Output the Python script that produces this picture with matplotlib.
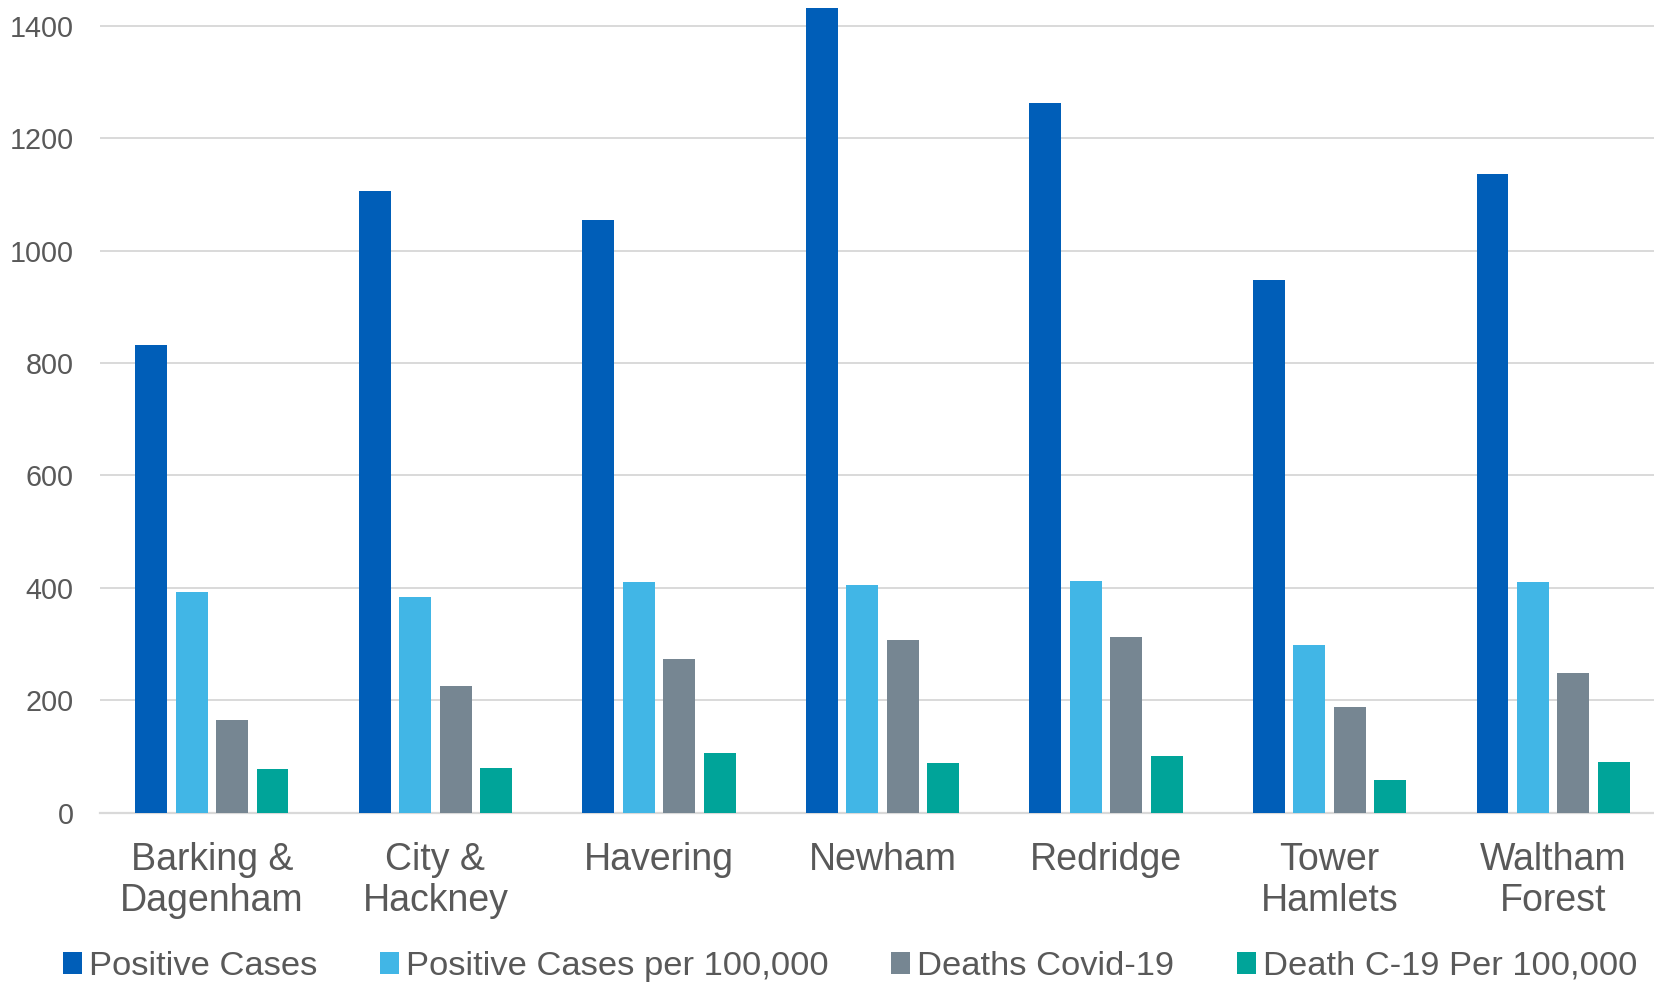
import numpy as np
import matplotlib
matplotlib.use('Agg')
import matplotlib.pyplot as plt

plt.rcParams['font.family'] = ['Liberation Sans', 'DejaVu Sans']

boroughs = ['Barking &\nDagenham', 'City &\nHackney', 'Havering', 'Newham',
            'Redridge', 'Tower\nHamlets', 'Waltham\nForest']
positive_cases = [833, 1107, 1055, 1431, 1262, 947, 1136]
positive_per_100k = [393, 384, 410, 406, 412, 298, 411]
deaths = [165, 225, 273, 307, 312, 188, 248]
deaths_per_100k = [78, 79, 106, 88, 101, 59, 90]

series = [
    ('Positive Cases', positive_cases, '#005EB8'),
    ('Positive Cases per 100,000', positive_per_100k, '#41B6E6'),
    ('Deaths Covid-19', deaths, '#768692'),
    ('Death C-19 Per 100,000', deaths_per_100k, '#00A499'),
]

fig = plt.figure(figsize=(16.54, 9.82), dpi=100)
ax = fig.add_axes([100 / 1654, 169.3 / 982, 1565 / 1654, 812.7 / 982])

x = np.arange(len(boroughs))
step = 0.181
width = 0.143
for i, (label, vals, color) in enumerate(series):
    ax.bar(x + (i - 1.5) * step, vals, width, color=color, label=label, zorder=3)

ax.set_xlim(-0.5, len(boroughs) - 0.5)
ax.set_ylim(0, 1446)
ax.set_yticks(range(0, 1401, 200))
ax.grid(axis='y', color='#D9D9D9', linewidth=1.4, zorder=0)
ax.set_axisbelow(True)
for s in ['top', 'right', 'left']:
    ax.spines[s].set_visible(False)
ax.spines['bottom'].set_color('#D9D9D9')
ax.spines['bottom'].set_linewidth(1.6)

ax.set_xticks(x)
ax.set_xticklabels(boroughs, fontsize=27, color='#595959', linespacing=1.2)
ax.tick_params(axis='x', length=0, pad=21)
ax.tick_params(axis='y', length=0, pad=19, labelsize=20.7, labelcolor='#595959')

fig.legend(loc='center', bbox_to_anchor=(0.514, 0.016), ncol=4, frameon=False,
           fontsize=24.8, labelcolor='#595959', handlelength=0.55, handleheight=0.6,
           handletextpad=0.2, columnspacing=1.83, borderaxespad=0)

fig.savefig('out.png', dpi=100)
